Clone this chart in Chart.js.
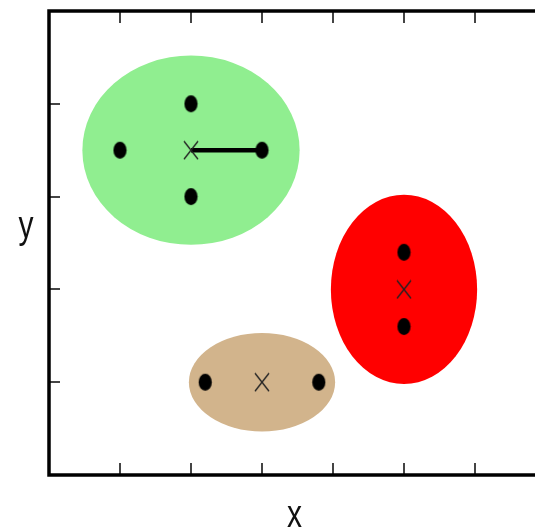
<!DOCTYPE html>
<html>
<head>
<meta charset="utf-8">
<script src="https://cdn.jsdelivr.net/npm/chart.js@4/dist/chart.umd.min.js"></script>
<style>
html, body { margin:0; padding:0; overflow:hidden; background:#fff; width:535px; height:530px; }
#wrap { position:absolute; left:0; top:0; width:560px; height:530px; }
</style>
</head>
<body>
<div id="wrap"><canvas id="c" width="560" height="530"></canvas></div>
<script>
// ---- data ----
const xLabel = 'x';
const yLabel = 'y';
const xTicks = [1, 2, 3, 4, 5, 6];
const yTicks = [1, 2, 3, 4];
const pointX = [1, 3, 2, 2, 5, 5, 2.2, 3.8];
const pointY = [3.5, 3.5, 4, 3, 2.4, 1.6, 1, 1];
const centerX = [2, 5, 3];
const centerY = [3.5, 2, 1];
const linkX = [2, 3];
const linkY = [3.5, 3.5];
const ellipseX = [2, 5, 3];
const ellipseY = [3.5, 2, 1];
const ellipseRX = [1.53, 1.03, 1.03];
const ellipseRY = [1.02, 1.02, 0.53];
const ellipseColors = ['#90EE90', '#FF0000', '#D2B48C'];

// ---- marker images ----
function makeDot() {
  const c = document.createElement('canvas');
  c.width = 15; c.height = 19;
  const g = c.getContext('2d');
  g.fillStyle = '#000';
  g.beginPath(); g.ellipse(7.5, 9.5, 6.6, 8.4, 0, 0, Math.PI * 2); g.fill();
  return c;
}
function makeCross() {
  const c = document.createElement('canvas');
  c.width = 16; c.height = 20;
  const g = c.getContext('2d');
  g.strokeStyle = '#222'; g.lineWidth = 1.3;
  g.beginPath();
  g.moveTo(1, 1); g.lineTo(15, 19);
  g.moveTo(15, 1); g.lineTo(1, 19);
  g.stroke();
  return c;
}
const dotImg = makeDot();
const crossImg = makeCross();

const toPts = (xs, ys) => xs.map((x, i) => ({ x: x, y: ys[i] }));

const decor = {
  id: 'decor',
  beforeDatasetsDraw(chart) {
    const { ctx, scales: { x, y } } = chart;
    ctx.save();
    ellipseX.forEach((cx, i) => {
      const px = x.getPixelForValue(cx), py = y.getPixelForValue(ellipseY[i]);
      const rx = Math.abs(x.getPixelForValue(cx + ellipseRX[i]) - px);
      const ry = Math.abs(y.getPixelForValue(ellipseY[i] + ellipseRY[i]) - py);
      ctx.fillStyle = ellipseColors[i];
      ctx.beginPath(); ctx.ellipse(px, py, rx, ry, 0, 0, Math.PI * 2); ctx.fill();
    });
    ctx.restore();
  },
  afterDraw(chart) {
    const { ctx, chartArea: a, scales: { x, y } } = chart;
    ctx.save();
    // ticks (inward)
    ctx.strokeStyle = '#444'; ctx.lineWidth = 2;
    ctx.beginPath();
    xTicks.forEach(t => {
      const px = Math.round(x.getPixelForValue(t)) + 0.0;
      ctx.moveTo(px, a.bottom); ctx.lineTo(px, a.bottom - 12);
      ctx.moveTo(px, a.top); ctx.lineTo(px, a.top + 12);
    });
    yTicks.forEach(t => {
      const py = Math.round(y.getPixelForValue(t));
      ctx.moveTo(a.left, py); ctx.lineTo(a.left + 11, py);
      ctx.moveTo(a.right, py); ctx.lineTo(a.right - 11, py);
    });
    ctx.stroke();
    // frame
    ctx.strokeStyle = '#000'; ctx.lineWidth = 3.5;
    ctx.strokeRect(a.left, a.top, a.right - a.left, a.bottom - a.top);
    // axis labels (stretched vertically like the reference)
    ctx.fillStyle = '#111';
    ctx.font = '30px "Liberation Sans", Arial, sans-serif';
    ctx.textAlign = 'center';
    ctx.textBaseline = 'alphabetic';
    ctx.save();
    ctx.translate((a.left + a.right) / 2 - 3, 527);
    ctx.scale(1, 1.3);
    ctx.fillText(xLabel, 0, 0);
    ctx.restore();
    ctx.save();
    ctx.translate(26, 238);
    ctx.scale(1, 1.3);
    ctx.fillText(yLabel, 0, 0);
    ctx.restore();
    ctx.restore();
  }
};

new Chart(document.getElementById('c'), {
  type: 'scatter',
  data: {
    datasets: [
      { type: 'line', data: toPts(linkX, linkY), borderColor: '#000', borderWidth: 4.5,
        pointRadius: 0, fill: false, order: 3 },
      { data: toPts(pointX, pointY), pointStyle: dotImg, pointRadius: 8, order: 2 },
      { data: toPts(centerX, centerY), pointStyle: crossImg, pointRadius: 8, order: 1 }
    ]
  },
  options: {
    responsive: false,
    animation: false,
    devicePixelRatio: 1,
    layout: { padding: { left: 49, top: 11, right: 14, bottom: 55 } },
    plugins: { legend: { display: false }, tooltip: { enabled: false } },
    scales: {
      x: { type: 'linear', min: 0, max: 7, display: false },
      y: { type: 'linear', min: 0, max: 5, display: false }
    }
  },
  plugins: [decor]
});
</script>
</body>
</html>
